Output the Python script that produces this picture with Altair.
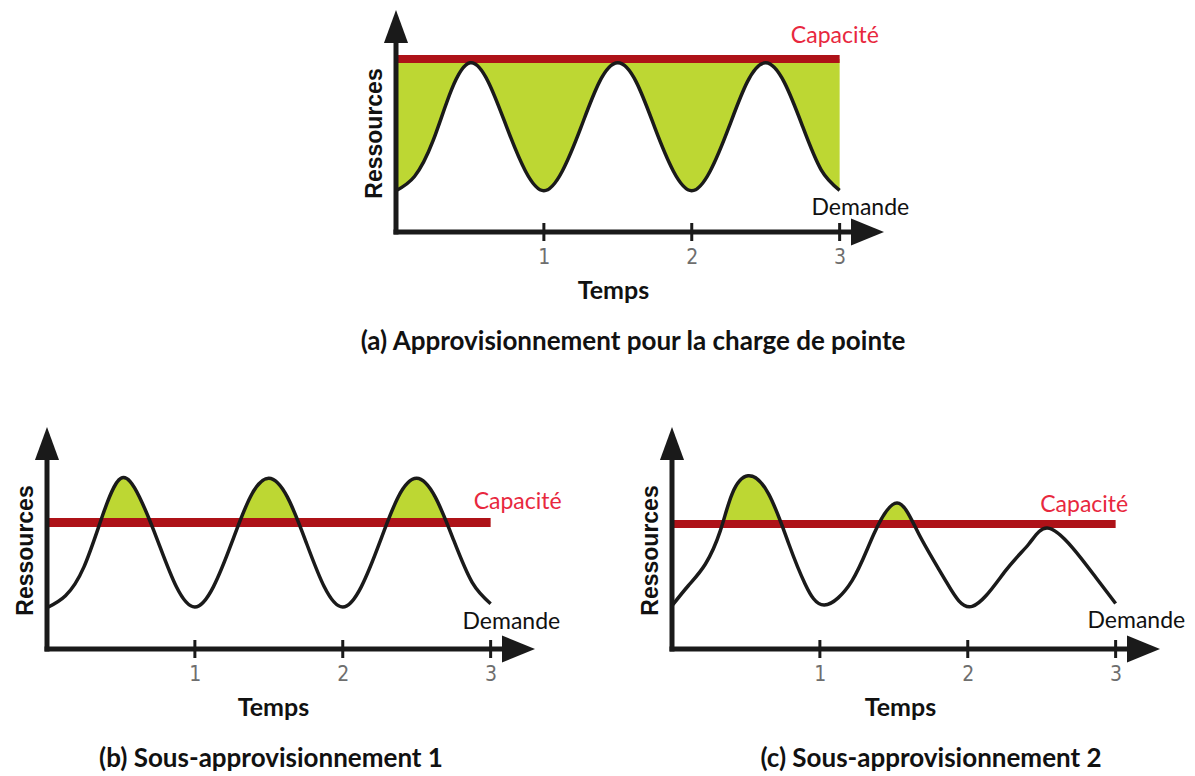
import altair as alt
import pandas as pd

# ---------------- data ----------------
X_MAX = 3.3          # end of the time arrow
Y_MAX = 10.0         # end of the resources arrow
TICK_VALUES = [1, 2, 3]

# (a) provisioning for peak load
a_t = [0, 0.125, 0.25, 0.375, 0.5, 0.625, 0.75, 0.875, 1.0, 1.125, 1.25, 1.375, 1.5,
       1.625, 1.75, 1.875, 2.0, 2.125, 2.25, 2.375, 2.5, 2.625, 2.75, 2.875, 3.0]
a_demand = [1.86, 2.5, 4.1, 6.4, 7.62, 6.75, 4.7, 2.75, 1.86, 2.75, 4.7, 6.75, 7.62,
            6.75, 4.7, 2.75, 1.86, 2.75, 4.7, 6.75, 7.62, 6.75, 4.75, 2.8, 1.88]
a_capacity = 7.79

# (b) under-provisioning 1
b_t = a_t
b_demand = [1.86, 2.4, 3.7, 6.0, 7.69, 6.85, 4.85, 2.8, 1.89, 2.8, 4.8, 6.85, 7.69,
            6.85, 4.85, 2.8, 1.89, 2.8, 4.8, 6.85, 7.69, 6.85, 4.9, 3.0, 2.04]
b_capacity = 5.7

# (c) under-provisioning 2
c_t = [0, 0.11, 0.226, 0.327, 0.406, 0.514, 0.654, 0.79, 0.9, 1.03, 1.218, 1.365, 1.522,
       1.669, 1.85, 2.03, 2.256, 2.413, 2.537, 2.706, 2.865, 3.0]
c_demand = [1.95, 2.85, 3.83, 5.33, 6.98, 7.8, 6.98, 4.73, 2.93, 1.98, 3.08, 5.18, 6.58,
            5.18, 3.08, 1.92, 3.53, 4.73, 5.45, 4.58, 3.23, 2.05]
c_capacity = 5.63

titles = ["(a) Approvisionnement pour la charge de pointe",
          "(b) Sous-approvisionnement 1",
          "(c) Sous-approvisionnement 2"]
cap_label = "Capacité"
demand_label = "Demande"
x_title = "Temps"
y_title = "Ressources"

# label anchor positions along time (data units)
cap_label_t = [2.67, 2.885, 2.49]
demand_label_t = 3.14

# ---------------- style ----------------
GREEN = "#BDD733"
CAP_RED = "#AE1218"
LABEL_RED = "#E8283E"
BLACK = "#1a1a1a"
W, H = 488, 222
CALIBRI = "Lato"
ARIAL = "Liberation Sans"
NARROW = "'Liberation Sans Narrow', 'DejaVu Sans Condensed', sans-serif"
CURVE = "natural"

XS = alt.Scale(domain=[0, X_MAX], nice=False, zero=False)
YS = alt.Scale(domain=[0, Y_MAX], nice=False, zero=False)

Y_ARROW = "M0,0L-0.73,2L0.73,2Z"
X_ARROW = "M0,0L-2,-0.82L-2,0.82Z"
TICK = "M0,-1L0,1"


def panel(t, demand, cap, idx, shade_above, temps_x, title_dx, cap_dy, cap_w):
    x_axis = alt.Axis(values=TICK_VALUES, title=x_title, titleX=temps_x, ticks=False,
                      domain=False, grid=False, labelPadding=14, labelFont=NARROW,
                      labelFontSize=21, labelColor="#6e6e6e", labelFlush=False,
                      format="d", titleFont=CALIBRI, titleFontSize=25,
                      titleFontWeight="bold", titleColor="#111111", titlePadding=11)
    y_axis = alt.Axis(title=y_title, labels=False, ticks=False, domain=False, grid=False,
                      titleFont=ARIAL, titleFontSize=23, titleFontWeight="bold",
                      titleColor="#111111", titlePadding=10, titleY=123)

    def X(f):
        return alt.X(f, scale=XS, axis=x_axis)

    def Y(f):
        return alt.Y(f, scale=YS, axis=y_axis)

    df = pd.DataFrame({"t": t, "demand": demand, "cap": [cap] * len(t)})
    layers = []
    layers.append(alt.Chart(df).mark_area(interpolate=CURVE, color=GREEN, opacity=1)
                  .encode(x=X("t:Q"), y=Y("demand:Q"), y2="cap:Q"))
    if not shade_above:
        mask = pd.DataFrame({"m0": [t[0] - 0.03], "m1": [t[-1] + 0.03],
                             "v0": [0], "v1": [cap]})
        layers.append(alt.Chart(mask).mark_rect(color="white", opacity=1)
                      .encode(x=X("m0:Q"), x2="m1:Q", y=Y("v0:Q"), y2="v1:Q"))
    capdf = pd.DataFrame({"c0": [0], "c1": [t[-1]], "c": [cap]})
    layers.append(alt.Chart(capdf).mark_rule(color=CAP_RED, strokeWidth=cap_w)
                  .encode(x=X("c0:Q"), x2="c1:Q", y=Y("c:Q")))
    layers.append(alt.Chart(df).mark_line(interpolate=CURVE, color=BLACK,
                                          strokeWidth=3.5)
                  .encode(x=X("t:Q"), y=Y("demand:Q")))
    # axes drawn as thick arrows
    ax = pd.DataFrame({"z": [0], "yl": [Y_MAX - 0.8], "xl": [X_MAX - 0.15]})
    layers.append(alt.Chart(ax).mark_rule(color=BLACK, strokeWidth=5, strokeCap="square")
                  .encode(x=X("z:Q"), y=Y("z:Q"), y2="yl:Q"))
    layers.append(alt.Chart(ax).mark_rule(color=BLACK, strokeWidth=5, strokeCap="square")
                  .encode(x=X("z:Q"), x2="xl:Q", y=Y("z:Q")))
    tk = pd.DataFrame({"tv": TICK_VALUES, "z": [0] * len(TICK_VALUES)})
    layers.append(alt.Chart(tk).mark_point(shape=TICK, size=324, strokeWidth=3,
                                           color=BLACK, opacity=1, filled=False)
                  .encode(x=X("tv:Q"), y=Y("z:Q")))
    ya = pd.DataFrame({"z": [0], "top": [Y_MAX]})
    layers.append(alt.Chart(ya).mark_point(shape=Y_ARROW, size=1089, filled=True,
                                           color=BLACK, opacity=1, strokeWidth=0)
                  .encode(x=X("z:Q"), y=Y("top:Q")))
    xa = pd.DataFrame({"z": [0], "right": [X_MAX]})
    layers.append(alt.Chart(xa).mark_point(shape=X_ARROW, size=1089, filled=True,
                                           color=BLACK, opacity=1, strokeWidth=0)
                  .encode(x=X("right:Q"), y=Y("z:Q")))
    # labels
    cl = pd.DataFrame({"lt": [cap_label_t[idx]], "lc": [cap], "txt": [cap_label]})
    layers.append(alt.Chart(cl).mark_text(align="left", baseline="alphabetic", dy=cap_dy,
                                          font=CALIBRI, fontSize=23, color=LABEL_RED)
                  .encode(x=X("lt:Q"), y=Y("lc:Q"), text="txt:N"))
    dl = pd.DataFrame({"lt": [demand_label_t], "ld": [demand[-1]], "txt": [demand_label]})
    layers.append(alt.Chart(dl).mark_text(align="center", baseline="top", dy=7,
                                          font=CALIBRI, fontSize=23, color="#111111")
                  .encode(x=X("lt:Q"), y=Y("ld:Q"), text="txt:N"))

    return alt.layer(*layers).properties(
        width=W, height=H,
        title=alt.TitleParams(text=titles[idx], orient="bottom", anchor="middle",
                              frame="group", font=CALIBRI, fontSize=26,
                              fontWeight="bold", color="#111111", offset=26,
                              dx=title_dx))


pa = panel(a_t, a_demand, a_capacity, 0, True, 217, -7, -16, 8)
pb = panel(b_t, b_demand, b_capacity, 1, False, 226, -20, -13, 9)
pc = panel(c_t, c_demand, c_capacity, 2, False, 228, 15, -12, 8)

spacer = alt.Chart(pd.DataFrame({"v": [0]})).mark_point(opacity=0).encode(
    x=alt.X("v:Q", axis=None), y=alt.Y("v:Q", axis=None)).properties(width=312, height=H)

top = alt.hconcat(spacer, pa, spacing=0)
bottom = alt.hconcat(pb, pc, spacing=77)
chart = alt.vconcat(top, bottom, spacing=72).properties(
    padding={"left": 6, "top": 2, "right": 0, "bottom": 0}
).configure_view(stroke=None)

chart.save("out.html", embed_options={"renderer": "svg", "actions": False})
